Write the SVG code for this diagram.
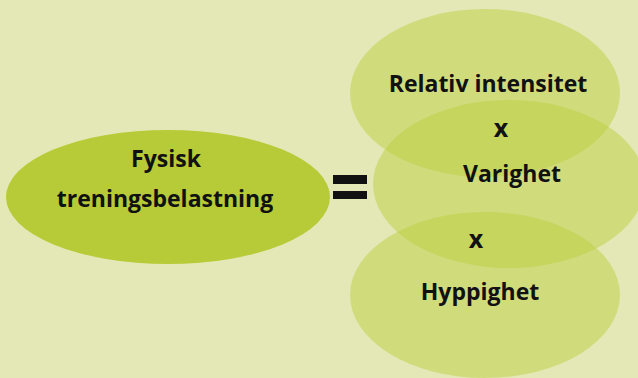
<svg xmlns="http://www.w3.org/2000/svg" width="638" height="378" viewBox="0 0 638 378">
<style>
.t{font-family:"Open Sans","Liberation Sans",sans-serif;font-weight:700;fill:#111;text-anchor:middle}
.f{fill:#b9ce3c;opacity:0.47}
</style>
<rect width="638" height="378" fill="#e4e8b6"/>
<g id="belastning">
<ellipse cx="168" cy="197" rx="162" ry="67" fill="#b6cb37"/>
<text class="t" x="166" y="167" font-size="23">Fysisk</text>
<text class="t" x="165" y="207" font-size="23">treningsbelastning</text>
</g>
<g id="likhet">
<rect x="333" y="175" width="34" height="9" fill="#111"/>
<rect x="333" y="191" width="34" height="8" fill="#111"/>
</g>
<g id="intensitet">
<ellipse class="f" cx="485" cy="93" rx="135" ry="84"/>
<text class="t" x="488" y="92" font-size="23">Relativ intensitet</text>
</g>
<g id="varighet">
<ellipse class="f" cx="509" cy="184" rx="136" ry="84"/>
<text class="t" x="501" y="137" font-size="25">x</text>
<text class="t" x="512" y="182" font-size="23">Varighet</text>
</g>
<g id="hyppighet">
<ellipse class="f" cx="485" cy="295" rx="135" ry="83"/>
<text class="t" x="476" y="248" font-size="25">x</text>
<text class="t" x="480" y="300" font-size="23">Hyppighet</text>
</g>
<g id="connectors"/>
</svg>
